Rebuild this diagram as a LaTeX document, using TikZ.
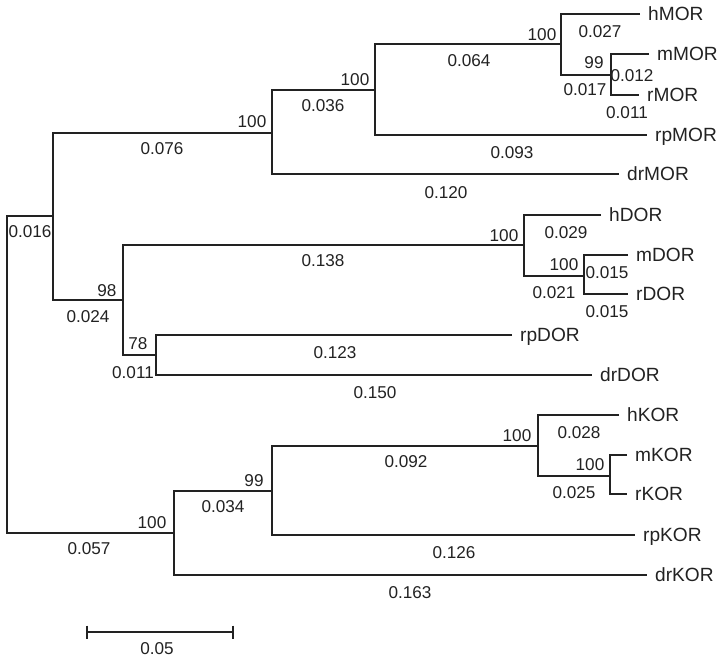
\documentclass[tikz,border=0pt]{standalone}
\usepackage{fontspec}
\setmainfont{Liberation Sans}
\definecolor{ink}{HTML}{222222}
\begin{document}
\begin{tikzpicture}[x=1bp,y=-1bp,
  branch/.style={draw=ink,line width=1.2bp},
  num/.style={inner sep=0pt,text=ink,font=\fontsize{17.2}{19}\selectfont},
  tip/.style={inner sep=0pt,anchor=base west,text=ink,font=\fontsize{19.2}{21}\selectfont}]
\useasboundingbox (0,0) rectangle (724,662);
% internal nodes
\coordinate (R) at (7,374);
\coordinate (A) at (53,216);
\coordinate (M) at (272,133);
\coordinate (M2) at (375,90);
\coordinate (M3) at (561,44);
\coordinate (M4) at (611,75);
\coordinate (D) at (123,300);
\coordinate (D2) at (524,245);
\coordinate (D3) at (584,276);
\coordinate (D4) at (156,355);
\coordinate (K) at (174,533);
\coordinate (K2) at (272,491);
\coordinate (K3) at (538,446);
\coordinate (K4) at (610,476);
% tips
\foreach \n/\x/\y in {hMOR/640/14, mMOR/649/54, rMOR/639/95, rpMOR/647/135, drMOR/619/174,
  hDOR/601/215, mDOR/628/255, rDOR/628/294, rpDOR/512/335, drDOR/592/375,
  hKOR/619/415, mKOR/627/455, rKOR/627/494, rpKOR/635/535, drKOR/647/575}{
  \coordinate (\n) at (\x,\y);
  \node[tip,yshift=-6.9bp] (l\n) at (\x+8,\y) {\n};
}
% branches
\draw[branch] (A) -| (R) |- (K);
\draw[branch] (M) -| (A) |- (D);
\draw[branch] (M2) -| (M) |- (drMOR);
\draw[branch] (M3) -| (M2) |- (rpMOR);
\draw[branch] (hMOR) -| (M3) |- (M4);
\draw[branch] (mMOR) -| (M4) |- (rMOR);
\draw[branch] (D2) -| (D) |- (D4);
\draw[branch] (hDOR) -| (D2) |- (D3);
\draw[branch] (mDOR) -| (D3) |- (rDOR);
\draw[branch] (rpDOR) -| (D4) |- (drDOR);
\draw[branch] (K2) -| (K) |- (drKOR);
\draw[branch] (K3) -| (K2) |- (rpKOR);
\draw[branch] (hKOR) -| (K3) |- (K4);
\draw[branch] (mKOR) -| (K4) |- (rKOR);
% bootstrap values
\foreach \n/\t/\x/\y in {bM/100/252/122, bM2/100/355/80, bM3/100/542/35, bM4/99/594/63,
  bD2/100/504/236, bD3/100/564/265, bD/98/107/291, bD4/78/138/344,
  bK3/100/517/436, bK4/100/590/465, bK2/99/254/481, bK/100/152/523}{
  \node[num] (\n) at (\x,\y) {\t};
}
% branch lengths
\foreach \n/\t/\x/\y in {lA/0.016/30/232, lM/0.076/162/149, lM2/0.036/323/106, lM3/0.064/469/61,
  lh1/0.027/600/32, lm1/0.012/632/76, lM4/0.017/585/90, lr1/0.011/627/113,
  lrp1/0.093/512/153, ldr1/0.120/446/193,
  lh2/0.029/566/233, lD2/0.138/323/261, lm2/0.015/607/273, lD3/0.021/554/293, lr2/0.015/607/312,
  lD/0.024/88/317, lD4/0.011/133/373, lrp2/0.123/335/353, ldr2/0.150/375/393,
  lh3/0.028/579/433, lK3/0.092/406/462, lK4/0.025/574/493, lK2/0.034/223/507,
  lK/0.057/89/549, lrp3/0.126/454/553, ldr3/0.163/410/593}{
  \node[num] (\n) at (\x,\y) {\t};
}
% scale bar
\coordinate (s1) at (87,632);
\coordinate (s2) at (233,632);
\draw[branch] (s1) -- (s2);
\draw[branch] ([yshift=6.5bp]s1) -- ([yshift=-6.5bp]s1);
\draw[branch] ([yshift=6.5bp]s2) -- ([yshift=-6.5bp]s2);
\node[num] (scale) at (157,649) {0.05};
\end{tikzpicture}
\end{document}
